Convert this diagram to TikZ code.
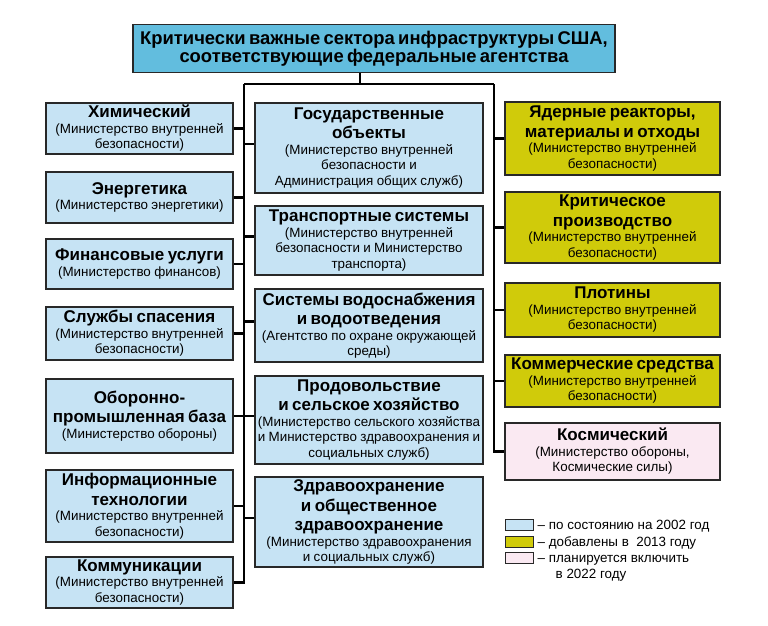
\documentclass[tikz,border=0pt]{standalone}
\usepackage{fontspec}
\setmainfont{Liberation Sans}
\usetikzlibrary{positioning}
\definecolor{c2002}{RGB}{198,227,244}
\definecolor{c2013}{RGB}{208,203,10}
\definecolor{c2022}{RGB}{250,233,242}
\definecolor{ctitle}{RGB}{98,189,222}
\definecolor{edge}{RGB}{40,40,40}
\newcommand\secttitle{\bfseries\fontsize{18.4}{18.5}\selectfont}
\newcommand\secthead{\bfseries\fontsize{17}{19.5}\selectfont}
\newcommand\sectsub{\mdseries\fontsize{13.4}{15.5}\selectfont}
\newcommand\sector[2]{\secthead #1\par\sectsub #2\par}

\begin{document}
\begin{tikzpicture}[x=1pt, y=-1pt,
    sector/.style={draw=edge, line width=1.4pt, inner sep=0pt, align=center},
    y2002/.style={sector, fill=c2002},
    y2013/.style={sector, fill=c2013},
    y2022/.style={sector, fill=c2022},
    lcol/.style={text width=187pt},
    mcol/.style={text width=228pt},
    rcol/.style={text width=215pt},
    link/.style={line width=2.2pt, black},
    legend/.style={anchor=base west, inner sep=0pt, font=\sectsub, align=left}]
    \fill[white] (0,0) rectangle (768,625);
    \useasboundingbox (0,0) rectangle (768,625);
    \node[sector, fill=ctitle, text width=482pt, minimum height=48pt] (title) at (374,48.5)
        {\secttitle Критически важные сектора инфраструктуры США,\\соответствующие федеральные агентства\par};
    \node[y2002, lcol, minimum height=51pt] (chem) at (139.5,128.5)
        {\sector{Химический}{(Министерство внутренней\\безопасности)}};
    \node[y2002, lcol, minimum height=51pt] (energy) at (139.5,197.5)
        {\sector{Энергетика}{(Министерство энергетики)}};
    \node[y2002, lcol, minimum height=50pt] (finance) at (139.5,264)
        {\sector{Финансовые услуги}{(Министерство финансов)}};
    \node[y2002, lcol, minimum height=53pt] (rescue) at (139.5,333.5)
        {\sector{Службы спасения}{(Министерство внутренней\\безопасности)}};
    \node[y2002, lcol, minimum height=74pt] (defense) at (139.5,416)
        {\sector{Оборонно-\\промышленная база}{(Министерство обороны)}};
    \node[y2002, lcol, minimum height=72pt] (infotech) at (139.5,506)
        {\sector{Информационные\\технологии}{(Министерство внутренней\\безопасности)}};
    \node[y2002, lcol, minimum height=51pt] (comms) at (139.5,582.5)
        {\sector{Коммуникации}{(Министерство внутренней\\безопасности)}};
    \node[y2002, mcol, minimum height=90pt] (govt) at (369,148)
        {\sector{Государственные\\объекты}{(Министерство внутренней\\безопасности и\\Администрация общих служб)}};
    \node[y2002, mcol, minimum height=69pt] (transport) at (369,240.5)
        {\sector{Транспортные системы}{(Министерство внутренней\\безопасности и Министерство\\транспорта)}};
    \node[y2002, mcol, minimum height=73pt] (water) at (369,325.5)
        {\sector{Системы водоснабжения\\и водоотведения}{(Агентство по охране окружающей\\среды)}};
    \node[y2002, mcol, minimum height=88pt] (food) at (369,420)
        {\sector{Продовольствие\\и сельское хозяйство}{(Министерство сельского хозяйства\\и Министерство здравоохранения и\\социальных служб)}};
    \node[y2002, mcol, minimum height=90pt] (health) at (369,522)
        {\sector{Здравоохранение\\и общественное\\здравоохранение}{(Министерство здравоохранения\\и социальных служб)}};
    \node[y2013, rcol, minimum height=73pt] (nuclear) at (612.5,138.5)
        {\sector{Ядерные реакторы,\\материалы и отходы}{(Министерство внутренней\\безопасности)}};
    \node[y2013, rcol, minimum height=71pt] (critmfg) at (612.5,227.5)
        {\sector{Критическое\\производство}{(Министерство внутренней\\безопасности)}};
    \node[y2013, rcol, minimum height=54pt] (dams) at (612.5,310)
        {\sector{Плотины}{(Министерство внутренней\\безопасности)}};
    \node[y2013, rcol, minimum height=52pt] (commercial) at (612.5,381)
        {\sector{Коммерческие средства}{(Министерство внутренней\\безопасности)}};
    \node[y2022, rcol, minimum height=57pt] (space) at (612.5,451.5)
        {\sector{Космический}{(Министерство обороны,\\Космические силы)}};
    \coordinate (hub) at (360,84);
    \coordinate (ltop) at (244,84);
    \coordinate (rtop) at (494,84);
    \draw[link] (hub |- title.south) -- (hub);
    \draw[link] (ltop) -- (rtop);
    \foreach \n in {chem,energy,finance,rescue,defense,infotech,comms}
        \draw[link] (ltop) |- (\n.east);
    \foreach \n in {govt,transport,water,food,health}
        \draw[link] (ltop) |- ([yshift=4pt]\n.west);
    \foreach \n in {nuclear,critmfg,dams,commercial,space}
        \draw[link] (rtop) |- (\n.west);
    \node[y2002, line width=1pt, minimum width=28pt, minimum height=11pt] (key02) at (519,524.5) {};
    \node[y2013, line width=1pt, minimum width=28pt, minimum height=11pt] (key13) at (519,542) {};
    \node[y2022, line width=1pt, minimum width=28pt, minimum height=11pt] (key22) at (519,558) {};
    \node[legend] (txt02) at ([xshift=4pt,yshift=-4.5pt]key02.east) {– по состоянию на 2002 год};
    \node[legend] (txt13) at ([xshift=4pt,yshift=-4.5pt]key13.east) {– добавлены в\ \ 2013 году};
    \node[legend] (txt22) at ([xshift=4pt,yshift=-20pt]key22.east) {– планируется включить\\\hspace*{18pt}в 2022 году};
\end{tikzpicture}
\end{document}
